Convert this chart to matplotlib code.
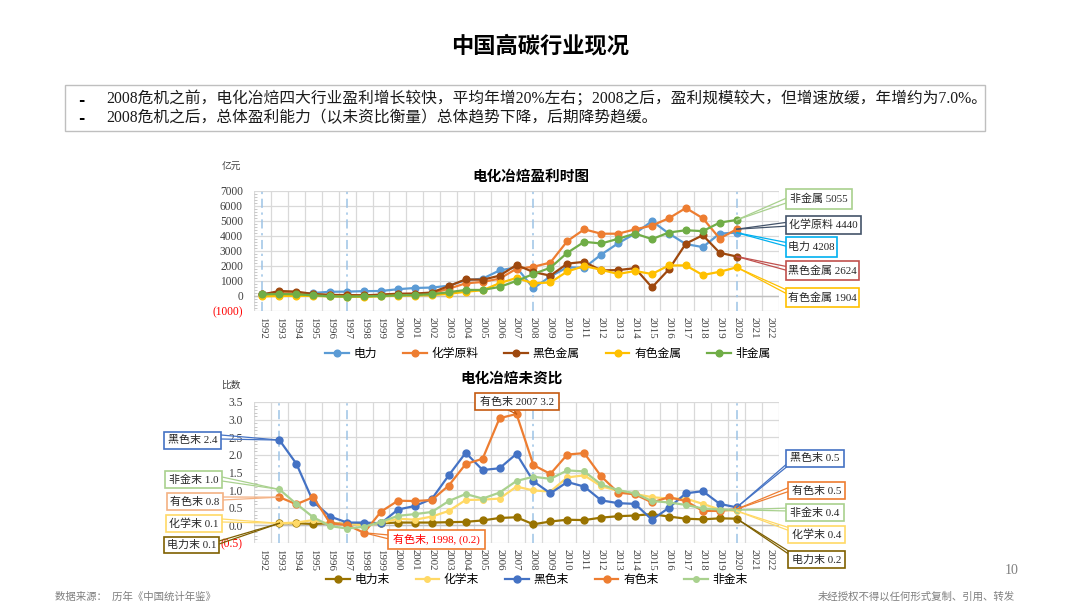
import numpy as np
import matplotlib
matplotlib.use('Agg')
import matplotlib.pyplot as plt
from matplotlib.lines import Line2D
from matplotlib.patches import Rectangle

W, H = 1080, 608
SERIF = ['Liberation Serif', 'Noto Sans CJK SC']
SANS = ['Noto Sans CJK SC', 'DejaVu Sans']
plt.rcParams['font.family'] = SERIF

# ---------------- data ----------------
years = list(range(1992, 2023))
year_labels = [str(y) for y in years]

# Top chart: profits (亿元), 1992-2020
top_years = list(range(1992, 2021))
power = [150, 150, 140, 200, 280, 290, 320, 330, 450, 530, 560, 680, 1050, 1150, 1700, 1900,
         510, 1300, 1900, 1880, 2750, 3500, 4150, 4980, 4150, 3450, 3250, 4150, 4208]
chem = [100, 180, 170, 100, 60, 50, 40, 60, 120, 130, 180, 480, 840, 930, 1150, 1810,
        1940, 2220, 3650, 4430, 4140, 4140, 4430, 4680, 5170, 5850, 5170, 3820, 4440]
ferrous = [100, 330, 290, 130, 70, 60, 40, 90, 150, 160, 230, 660, 1100, 1080, 1350, 2060,
           1590, 1350, 2150, 2270, 1700, 1720, 1850, 570, 1770, 3480, 4040, 2870, 2624]
nonferrous = [-30, 0, 0, 10, -30, -50, -60, -20, 20, 30, 60, 140, 280, 380, 850, 1200,
              840, 900, 1630, 1990, 1740, 1460, 1660, 1460, 2030, 2030, 1390, 1610, 1904]
nonmetal = [100, 130, 110, 40, -20, -40, -30, 0, 40, 60, 120, 250, 400, 400, 600, 1000,
            1460, 1880, 2870, 3600, 3490, 3800, 4150, 3780, 4220, 4370, 4310, 4880, 5055]
top_names = ['电力', '化学原料', '黑色金属', '有色金属', '非金属']
top_series = [power, chem, ferrous, nonferrous, nonmetal]

# Bottom chart: ratio, 1993-2020
bot_years = list(range(1993, 2021))
r_power = [0.06, 0.06, 0.04, 0.06, 0.04, 0.04, 0.06, 0.08, 0.08, 0.08, 0.09, 0.10, 0.14, 0.21,
           0.23, 0.03, 0.11, 0.16, 0.15, 0.22, 0.26, 0.28, 0.32, 0.25, 0.19, 0.17, 0.20, 0.19]
r_chem = [0.06, 0.08, 0.15, 0.04, 0.05, 0.00, 0.06, 0.19, 0.16, 0.25, 0.41, 0.72, 0.73, 0.76,
          1.10, 0.99, 0.96, 1.36, 1.42, 1.11, 0.98, 0.89, 0.80, 0.76, 0.76, 0.61, 0.45, 0.41]
r_ferrous = [2.42, 1.75, 0.67, 0.25, 0.08, 0.08, 0.06, 0.45, 0.55, 0.75, 1.42, 2.06, 1.57, 1.62,
             2.03, 1.25, 0.91, 1.23, 1.10, 0.71, 0.63, 0.61, 0.16, 0.50, 0.91, 0.97, 0.61, 0.51]
r_nonferrous = [0.80, 0.60, 0.80, 0.06, 0.01, -0.21, 0.39, 0.70, 0.69, 0.72, 1.13, 1.74, 1.89, 3.04,
                3.16, 1.71, 1.46, 2.01, 2.05, 1.39, 0.93, 0.88, 0.65, 0.80, 0.69, 0.41, 0.41, 0.46]
r_nonmetal = [1.02, 0.61, 0.23, -0.02, -0.09, -0.04, 0.10, 0.27, 0.32, 0.38, 0.69, 0.89, 0.76, 0.93,
              1.26, 1.38, 1.32, 1.56, 1.53, 1.16, 1.00, 0.91, 0.69, 0.65, 0.58, 0.48, 0.45, 0.44]
bot_names = ['电力末', '化学末', '黑色末', '有色末', '非金末']
bot_series = [r_power, r_chem, r_ferrous, r_nonferrous, r_nonmetal]

top_ticks = [-1000, 0, 1000, 2000, 3000, 4000, 5000, 6000, 7000]
bot_ticks = [-0.5, 0.0, 0.5, 1.0, 1.5, 2.0, 2.5, 3.0, 3.5]
top_vlines = [1992, 1997, 2008, 2020]
bot_vlines = [1993, 1997, 2008, 2020]

top_colors = ['#5B9BD5', '#ED7D31', '#9E480E', '#FFC000', '#70AD47']
bot_colors = ['#997300', '#FFD966', '#4472C4', '#ED7D31', '#A9D18E']

# ---------------- figure ----------------
fig = plt.figure(figsize=(W / 100, H / 100), dpi=100)
fig.patch.set_facecolor('white')


def fp(x, y):
    return (x / W, 1 - y / H)


def axes_px(l, t, r, b):
    return fig.add_axes([l / W, 1 - b / H, (r - l) / W, (b - t) / H])


def style(ax, ticks, labels, minor_step):
    ax.set_xlim(-0.5, len(years) - 0.5)
    ax.set_ylim(ticks[0], ticks[-1])
    for s in ax.spines.values():
        s.set_visible(False)
    ax.set_xticks(range(len(years)))
    ax.set_xticklabels(year_labels, rotation=-90, fontsize=7.8, color='#404040',
                       ha='center', va='top')
    ax.set_xticks(np.arange(-0.5, len(years)), minor=True)
    ax.tick_params(axis='x', which='both', length=0, pad=4)
    ax.grid(True, which='minor', axis='x', color='#D9D9D9', lw=0.9)
    ax.set_yticks(ticks)
    ax.set_yticklabels(labels, fontsize=8.3, color='#404040')
    for t, v in zip(ax.get_yticklabels(), ticks):
        if v < 0:
            t.set_color('#FF0000')
    ax.set_yticks(np.arange(ticks[0], ticks[-1] + minor_step / 2, minor_step), minor=True)
    ax.tick_params(axis='y', which='major', length=0, pad=8)
    ax.tick_params(axis='y', which='minor', direction='in', length=2.5, color='#BFBFBF')
    ax.grid(True, which='major', axis='y', color='#D9D9D9', lw=0.9)
    ax.axhline(0, color='#BFBFBF', lw=1.0, zorder=1)
    ax.set_axisbelow(True)


def vline(ax, yr):
    ax.axvline(years.index(yr), color='#9DC3E6', lw=1.1, ls=(0, (6, 3, 1.5, 3)), zorder=1)


def callout(ax, yr, val, text, box, color, anchors, tcolor='#262626', lw=1.2):
    l, t, r, b = box
    fig.add_artist(Rectangle(fp(l, b), (r - l) / W, (b - t) / H, transform=fig.transFigure,
                             facecolor='white', edgecolor=color, lw=lw, zorder=5))
    fig.text((l + r) / 2 / W, 1 - (t + b) / 2 / H, text, ha='center', va='center',
             fontsize=7.9, color=tcolor, family=SERIF, zorder=6)
    dx, dy = ax.transData.transform((years.index(yr), val))
    for ax_, ay_ in anchors:
        fig.add_artist(Line2D([dx / W, ax_ / W], [dy / H, 1 - ay_ / H], transform=fig.transFigure,
                              color=color, lw=0.9, zorder=4))


# ---------------- top chart ----------------
ax1 = axes_px(254, 190.7, 779, 311)
style(ax1, top_ticks,
      [f'{v:d}' if v >= 0 else f'({abs(v):d})' for v in top_ticks], 200)
for yr in top_vlines:
    vline(ax1, yr)
x_top = [years.index(y) for y in top_years]
h_top = []
for name, ser, c in zip(top_names, top_series, top_colors):
    ln, = ax1.plot(x_top, ser, color=c, lw=1.6, marker='o', ms=4.8, label=name, zorder=3)
    h_top.append(ln)

fig.text(*fp(531, 177), '电化冶焙盈利时图', ha='center', va='center', fontsize=10.5,
         fontweight='bold', family=SERIF)
fig.text(*fp(231, 167), '亿元', ha='center', va='center', fontsize=7, color='#404040')
fig.legend(h_top, top_names, loc='center', bbox_to_anchor=fp(548, 354), ncol=5, frameon=False,
           handlelength=2.0, columnspacing=2.2, handletextpad=0.4,
           prop={'family': SERIF, 'size': 8.5})

# callouts top (right side)
callout(ax1, 2020, nonmetal[-1], f'非金属 {nonmetal[-1]:d}', (786, 189, 852, 209), '#A9D18E',
        [(789, 197), (789, 202)])
callout(ax1, 2020, chem[-1], f'化学原料 {chem[-1]:d}', (786, 216, 861, 234), '#44546A',
        [(789, 222), (789, 226)])
callout(ax1, 2020, power[-1], f'电力 {power[-1]:d}', (786, 237, 837, 257), '#00B0F0',
        [(789, 243), (789, 247)])
callout(ax1, 2020, ferrous[-1], f'黑色金属 {ferrous[-1]:d}', (786, 261, 859, 280), '#C0504D',
        [(789, 267), (789, 271)])
callout(ax1, 2020, nonferrous[-1], f'有色金属 {nonferrous[-1]:d}', (786, 288, 859, 307), '#FFC000',
        [(789, 291), (789, 295)])

# ---------------- bottom chart ----------------
ax2 = axes_px(254, 402, 779, 543)
style(ax2, bot_ticks,
      [f'{v:.1f}' if v >= 0 else f'({abs(v):.1f})' for v in bot_ticks], 0.1)
for yr in bot_vlines:
    vline(ax2, yr)
x_bot = [years.index(y) for y in bot_years]
h_bot = []
sizes = [5, 4, 5, 5, 4]
for name, ser, c, ms in zip(bot_names, bot_series, bot_colors, sizes):
    ln, = ax2.plot(x_bot, ser, color=c, lw=1.6, marker='o', ms=ms, label=name, zorder=3)
    h_bot.append(ln)
fig.text(*fp(512, 379), '电化冶焙未资比', ha='center', va='center', fontsize=10.5,
         fontweight='bold', family=SERIF)
fig.text(*fp(231, 385), '比数', ha='center', va='center', fontsize=7, color='#404040')
fig.legend(h_bot, bot_names, loc='center', bbox_to_anchor=fp(537, 580), ncol=5, frameon=False,
           handlelength=2.0, columnspacing=2.2, handletextpad=0.4,
           prop={'family': SERIF, 'size': 8.5})

# left callouts (1993 values)
callout(ax2, 1993, r_ferrous[0], f'黑色末 {r_ferrous[0]:.1f}', (164, 432, 221, 449), '#4472C4',
        [(221, 435), (221, 439)])
callout(ax2, 1993, r_nonmetal[0], f'非金末 {r_nonmetal[0]:.1f}', (165, 471, 222, 488), '#A9D18E',
        [(222, 477), (222, 481)])
callout(ax2, 1993, r_nonferrous[0], f'有色末 {r_nonferrous[0]:.1f}', (167, 493, 223, 510), '#F4B183',
        [(223, 497), (223, 500)])
callout(ax2, 1993, r_chem[0], f'化学末 {r_chem[0]:.1f}', (166, 515, 222, 532), '#FFD966',
        [(222, 519), (222, 522)])
callout(ax2, 1993, r_power[0], f'电力末 {r_power[0]:.1f}', (164, 537, 219, 553), '#7F6000',
        [(219, 541), (219, 544)])

# peak / trough callouts
i07 = bot_years.index(2007)
callout(ax2, 2007, r_nonferrous[i07], f'有色末 2007 {r_nonferrous[i07]:.1f}', (475, 393, 559, 410),
        '#C55A11', [(508, 410), (514, 410)])
i98 = bot_years.index(1998)
callout(ax2, 1998, r_nonferrous[i98], f'有色末, 1998, ({abs(r_nonferrous[i98]):.1f})',
        (388, 530, 485, 549), '#ED7D31', [(389, 535), (389, 539)], tcolor='#FF0000')

# right callouts (2020 values)
callout(ax2, 2020, r_ferrous[-1], f'黑色末 {r_ferrous[-1]:.1f}', (786, 450, 844, 467), '#4472C4',
        [(789, 462), (789, 465)])
callout(ax2, 2020, r_nonferrous[-1], f'有色末 {r_nonferrous[-1]:.1f}', (788, 482, 845, 499), '#ED7D31',
        [(790, 487), (790, 491)])
callout(ax2, 2020, r_nonmetal[-1], f'非金末 {r_nonmetal[-1]:.1f}', (786, 504, 844, 521), '#A9D18E',
        [(789, 508), (789, 511)])
callout(ax2, 2020, r_chem[-1], f'化学末 {r_chem[-1]:.1f}', (788, 526, 845, 543), '#FFD966',
        [(790, 528), (790, 531)])
callout(ax2, 2020, r_power[-1], f'电力末 {r_power[-1]:.1f}', (788, 551, 845, 568), '#7F6000',
        [(790, 552), (790, 555)])

# ---------------- slide elements ----------------
fig.text(*fp(540, 46), '中国高碳行业现况', ha='center', va='center', fontsize=16,
         fontweight='bold', family=SANS)
fig.add_artist(Rectangle(fp(65, 131), 920 / W, 46 / H, transform=fig.transFigure,
                         facecolor='white', edgecolor='#BFBFBF', lw=1.0))
lines_txt = ['2008危机之前，电化冶焙四大行业盈利增长较快，平均年增20%左右；2008之后，盈利规模较大，但增速放缓，年增约为7.0%。',
             '2008危机之后，总体盈利能力（以未资比衡量）总体趋势下降，后期降势趋缓。']
for yy, s in zip([100, 118], lines_txt):
    fig.text(*fp(78, yy), '-', ha='left', va='center', fontsize=11, fontweight='bold',
             family=['DejaVu Sans'])
    fig.text(*fp(106, yy), s, ha='left', va='center', fontsize=11.3, family=SERIF, color='#1a1a1a')

fig.text(*fp(55, 597), '数据来源：  历年《中国统计年鉴》', ha='left', va='center', fontsize=7.5,
         color='#7F7F7F', family=SERIF)
fig.text(*fp(1015, 597), '未经授权不得以任何形式复制、引用、转发', ha='right', va='center', fontsize=7.5,
         color='#7F7F7F', family=SERIF)
fig.text(*fp(1019, 571), '10', ha='right', va='center', fontsize=10, color='#7F7F7F', family=SERIF)

fig.savefig('out.png', dpi=100)
